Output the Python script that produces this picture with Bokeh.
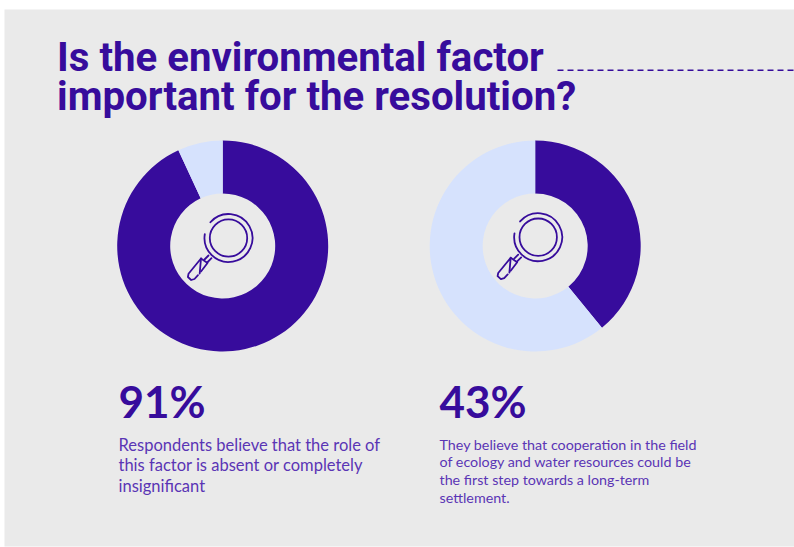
import math
from bokeh.core.properties import value
from bokeh.embed import file_html
from bokeh.models import Range1d
from bokeh.plotting import figure
from bokeh.resources import INLINE

DARK = "#370c9c"
LIGHT = "#d6e2fd"
GREY = "#eaeaea"
BODY = "#5a35b5"

title_lines = ["Is the environmental factor", "important for the resolution?"]
left_values = [93.1, 6.9]
right_values = [39.1, 60.9]
left_pct = "91%"
right_pct = "43%"
left_text = ["Respondents believe that the role of", "this factor is absent or completely", "insignificant"]
right_text = ["They believe that cooperation in the field", "of ecology and water resources could be",
              "the first step towards a long-term", "settlement."]

p = figure(width=794, height=547, output_backend="svg", toolbar_location=None,
           x_range=Range1d(0, 794), y_range=Range1d(547, 0),
           min_border=0, outline_line_color=None, background_fill_color="white",
           border_fill_color="white")
p.xaxis.visible = False
p.yaxis.visible = False
p.grid.visible = False

p.quad(left=[4], right=[794], top=[9], bottom=[546], fill_color=GREY, line_color=None)

def donut(cx, cy, values):
    total = sum(values)
    start = math.pi / 2
    for v, col in zip(values, [DARK, LIGHT]):
        end = start - 2 * math.pi * v / total
        p.annular_wedge(x=[cx], y=[cy], inner_radius=52.5, outer_radius=105.5, start_angle=[start],
                        end_angle=[end], direction="clock", fill_color=col, line_color=None)
        start = end

def icon(cx, cy):
    lw = 1.8
    p.circle(x=[cx], y=[cy], radius=18.7, fill_color=None, line_color=DARK, line_width=lw)
    p.arc(x=[cx], y=[cy], radius=24, start_angle=[math.radians(139)], end_angle=[math.radians(171)],
          direction="clock", line_color=DARK, line_width=lw, line_cap="round")
    xs = [[-28.8, -27.5, -40, -40.6, -37.3, -34, -30.5],
          [-27.5, -21, -27.5],
          [-24, -20],
          [-21.3, -17]]
    ys = [[35.5, 20.5, 35.8, 39, 42, 41, 37.2],
          [33.5, 25, 20.5],
          [21.5, 17.5],
          [24.5, 20.2]]
    p.multi_line(xs=[[cx + a for a in s] for s in xs], ys=[[cy + b for b in s] for s in ys],
                 line_color=DARK, line_width=lw, line_cap="round", line_join="round")

donut(222.2, 245.5, left_values)
donut(534.7, 245.5, right_values)
icon(228, 237.5)
icon(537.7, 236.7)

p.text(x=[56.5, 56.5], y=[57, 96], text=title_lines, text_font=value("Roboto"), text_font_size="40.2px",
       text_font_style="bold", text_color=DARK, text_baseline="alphabetic")
p.segment(x0=[557], x1=[794], y0=[69.7], y1=[69.7], line_color=DARK, line_width=1.6, line_dash="6 4")

p.text(x=[118, 439], y=[400, 400], text=[left_pct, right_pct], text_font=value("Lato"), text_font_size="44px",
       text_font_style="bold", text_color=DARK, text_baseline="alphabetic")
p.text(x=[118] * 3, y=[444, 464.5, 485], text=left_text, text_font=value("Lato"), text_font_size="16.5px",
       text_color=BODY, text_baseline="alphabetic")
p.text(x=[439] * 4, y=[443.5, 461, 479, 496.5], text=right_text, text_font=value("Lato"), text_font_size="14.3px",
       text_color=BODY, text_baseline="alphabetic")

open("out.html", "w").write(file_html(p, INLINE))
